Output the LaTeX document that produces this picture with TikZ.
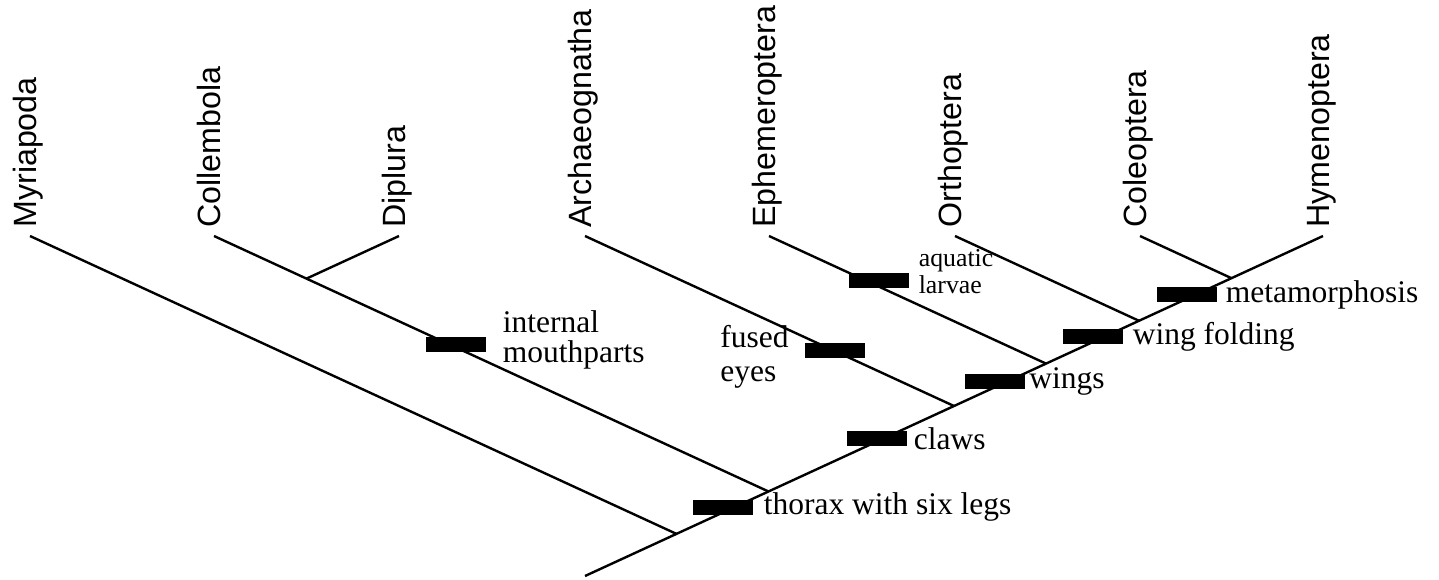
\documentclass[tikz,border=0pt]{standalone}
\usepackage{fontspec}
\setmainfont{Liberation Serif}
\setsansfont{Liberation Sans}
\usetikzlibrary{positioning}

\begin{document}
\begin{tikzpicture}[x=0.5pt,y=-0.5pt,
  taxon/.style={rotate=90,anchor=base west,inner sep=0pt,font=\sffamily\fontsize{16.1}{18}\selectfont},
  trait/.style={fill=black,inner sep=0pt,minimum width=30pt,minimum height=7.5pt},
  traitlabel/.style={inner sep=0pt,align=left,font=\fontsize{15.75}{15}\selectfont},
  branch/.style={line width=1.2pt}]
\useasboundingbox (0,0) rectangle (1439,579);

% taxa
\foreach \name/\x/\txt in {myr/30/Myriapoda, col/214/Collembola, dip/399/Diplura,
    arc/585/Archaeognatha, eph/769/Ephemeroptera, ort/955/Orthoptera,
    cle/1140/Coleoptera, hym/1323/Hymenoptera}{
  \coordinate (\name-top) at (\x,236);
  \node[taxon] (\name) at (\x+6,228) {\txt};
}

% trunk and branch points
\coordinate (root) at (585,576);
\coordinate (j1) at (676.5,533.9);
\coordinate (j2) at (768.5,491.5);
\coordinate (jd) at (306.5,278.6);
\coordinate (j3) at (954,406);
\coordinate (j4) at (1046,363.6);
\coordinate (j5) at (1139,320.8);
\coordinate (j6) at (1231.5,278.2);

\draw[branch] (root) -- (hym-top);
\draw[branch] (myr-top) -- (j1);
\draw[branch] (col-top) -- (j2);
\draw[branch] (dip-top) -- (jd);
\draw[branch] (arc-top) -- (j3);
\draw[branch] (eph-top) -- (j4);
\draw[branch] (ort-top) -- (j5);
\draw[branch] (cle-top) -- (j6);

% characters
\node[trait] (mp) at (456,344.5) {};
\node[traitlabel,right=8pt of mp,yshift=2.4pt] (mp-l) {internal\\mouthparts};
\node[trait] (fe) at (834.5,350) {};
\node[traitlabel,font=\fontsize{15.75}{17}\selectfont,left=7.5pt of fe,yshift=-3.5pt] (fe-l) {fused\\eyes};
\node[trait] (al) at (879,280.5) {};
\node[traitlabel,font=\fontsize{12.9}{13.8}\selectfont,right=4.5pt of al,yshift=4.4pt] (al-l) {aquatic\\larvae};
\node[trait] (tx) at (723,507) {};
\node[traitlabel,right=5pt of tx] (tx-l) {thorax with six legs};
\node[trait] (cl) at (877,438.5) {};
\node[traitlabel,right=3pt of cl] (cl-l) {claws};
\node[trait] (wg) at (994.5,381.5) {};
\node[traitlabel,right=2pt of wg] (wg-l) {wings};
\node[trait] (wf) at (1093,336.5) {};
\node[traitlabel,right=4.5pt of wf] (wf-l) {wing folding};
\node[trait] (mm) at (1187,294.5) {};
\node[traitlabel,right=4pt of mm] (mm-l) {metamorphosis};
\end{tikzpicture}
\end{document}
